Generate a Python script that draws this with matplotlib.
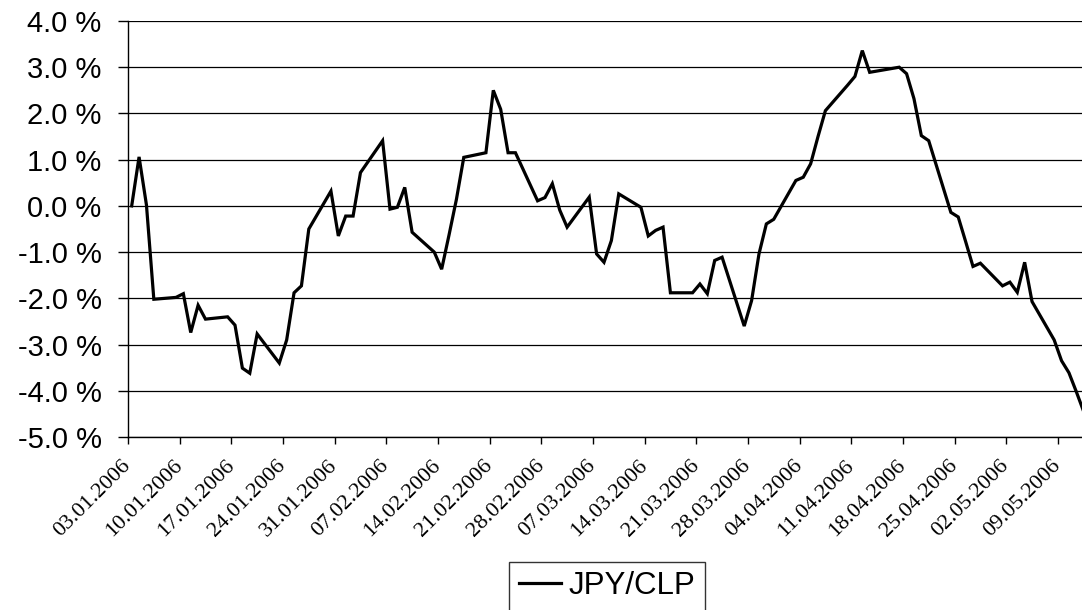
import pandas as pd
import numpy as np
import matplotlib.pyplot as plt
import matplotlib.dates as mdates
from matplotlib.ticker import FuncFormatter

# JPY/CLP daily change vs. 03.01.2006, in percent
dates = [
    "2006-01-03", "2006-01-04", "2006-01-05", "2006-01-06",
    "2006-01-09", "2006-01-10", "2006-01-11", "2006-01-12", "2006-01-13",
    "2006-01-16", "2006-01-17", "2006-01-18", "2006-01-19", "2006-01-20",
    "2006-01-23", "2006-01-24", "2006-01-25", "2006-01-26", "2006-01-27",
    "2006-01-30", "2006-01-31", "2006-02-01", "2006-02-02", "2006-02-03",
    "2006-02-06", "2006-02-07", "2006-02-08", "2006-02-09", "2006-02-10",
    "2006-02-13", "2006-02-14", "2006-02-15", "2006-02-16", "2006-02-17",
    "2006-02-20", "2006-02-21", "2006-02-22", "2006-02-23", "2006-02-24",
    "2006-02-27", "2006-02-28", "2006-03-01", "2006-03-02", "2006-03-03",
    "2006-03-06", "2006-03-07", "2006-03-08", "2006-03-09", "2006-03-10",
    "2006-03-13", "2006-03-14", "2006-03-15", "2006-03-16", "2006-03-17",
    "2006-03-20", "2006-03-21", "2006-03-22", "2006-03-23", "2006-03-24",
    "2006-03-27", "2006-03-28", "2006-03-29", "2006-03-30", "2006-03-31",
    "2006-04-03", "2006-04-04", "2006-04-05", "2006-04-06", "2006-04-07",
    "2006-04-10", "2006-04-11", "2006-04-12", "2006-04-13",
    "2006-04-17", "2006-04-18", "2006-04-19", "2006-04-20", "2006-04-21",
    "2006-04-24", "2006-04-25", "2006-04-26", "2006-04-27", "2006-04-28",
    "2006-05-01", "2006-05-02", "2006-05-03", "2006-05-04", "2006-05-05",
    "2006-05-08", "2006-05-09", "2006-05-10", "2006-05-11", "2006-05-12",
]
jpy_clp = [
    0.00, 1.06, 0.02, -2.02,
    -1.98, -1.90, -2.74, -2.15, -2.45,
    -2.40, -2.58, -3.51, -3.62, -2.77,
    -3.40, -2.90, -1.88, -1.73, -0.50,
    0.32, -0.65, -0.22, -0.22, 0.72,
    1.41, -0.07, -0.03, 0.40, -0.57,
    -1.00, -1.37, -0.63, 0.14, 1.05,
    1.15, 2.50, 2.09, 1.15, 1.15,
    0.11, 0.18, 0.48, -0.09, -0.46,
    0.19, -1.04, -1.22, -0.75, 0.26,
    -0.03, -0.65, -0.53, -0.46, -1.88,
    -1.88, -1.69, -1.90, -1.18, -1.11,
    -2.60, -2.05, -1.04, -0.39, -0.29,
    0.55, 0.62, 0.91, 1.50, 2.06,
    2.61, 2.80, 3.36, 2.89,
    3.00, 2.86, 2.32, 1.52, 1.41,
    -0.14, -0.24, -0.77, -1.31, -1.24,
    -1.73, -1.65, -1.87, -1.22, -2.07,
    -2.90, -3.35, -3.61, -4.02, -4.45,
]
series_label = "JPY/CLP"
y_ticks = [-5, -4, -3, -2, -1, 0, 1, 2, 3, 4]

sans = ["Liberation Sans", "DejaVu Sans"]
serif = ["Liberation Serif", "DejaVu Serif"]

fig = plt.figure(figsize=(10.82, 6.10), dpi=100)
ax = fig.add_axes([128 / 1082, 173 / 610, 954 / 1082, 416 / 610])

# Excel date axis: each point sits in the middle of its day
x = pd.to_datetime(dates) + pd.Timedelta(hours=12)
line, = ax.plot(x, jpy_clp, color="black", linewidth=2.3,
                solid_joinstyle="miter", label=series_label)

ax.set_xlim(pd.Timestamp("2006-01-03"), pd.Timestamp("2006-05-12 06:30"))
ax.set_ylim(-5, 4)
ax.set_yticks(y_ticks)
ax.yaxis.set_major_formatter(FuncFormatter(lambda v, p: f"{v:.1f} %"))

week_ticks = pd.date_range("2006-01-03", "2006-05-09", freq="7D")
ax.set_xticks(week_ticks)
ax.xaxis.set_major_formatter(mdates.DateFormatter("%d.%m.%Y"))

ax.grid(axis="y", color="black", linewidth=0.9)
ax.set_axisbelow(True)
for side in ["top", "right"]:
    ax.spines[side].set_visible(False)
for side in ["left", "bottom"]:
    ax.spines[side].set_color("black")
    ax.spines[side].set_linewidth(1.0)

ax.tick_params(axis="y", direction="out", length=7, width=1, pad=12)
ax.tick_params(axis="x", direction="out", length=5, width=1, pad=14)
for lab in ax.get_yticklabels():
    lab.set_family(sans)
    lab.set_fontsize(21)
for lab in ax.get_xticklabels():
    lab.set_family(serif)
    lab.set_fontsize(16)
    lab.set_rotation(45)
    lab.set_ha("right")
    lab.set_va("center")
    lab.set_rotation_mode("anchor")

leg = fig.legend(handles=[line], loc="upper center",
                 bbox_to_anchor=(607 / 1082, 1 - 562 / 610),
                 prop={"family": sans, "size": 22.5},
                 frameon=True, fancybox=False, shadow=False,
                 handlelength=1.35, handletextpad=0.25, borderpad=0.3,
                 borderaxespad=0)
leg.get_frame().set_edgecolor("black")
leg.get_frame().set_linewidth(1.0)

fig.savefig("out.png", dpi=100)
